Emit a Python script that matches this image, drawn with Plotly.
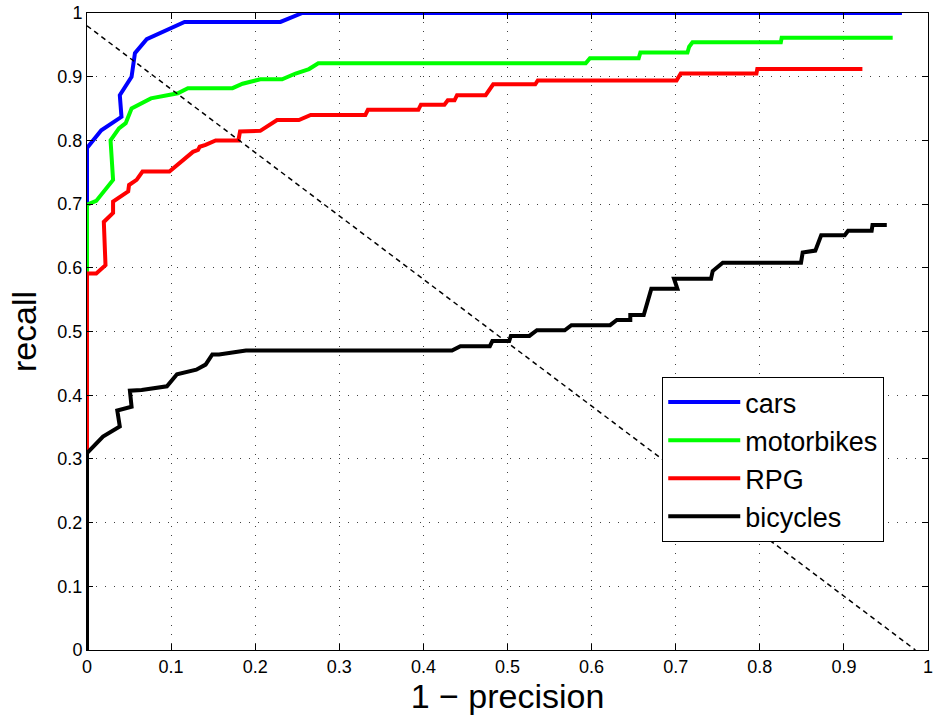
import plotly.graph_objects as go

# ---- data (1 - precision, recall) ----
cars_x = [0, 0, 0.017, 0.041, 0.039, 0.053, 0.057, 0.071, 0.116, 0.23, 0.256, 0.969]
cars_y = [0, 0.788, 0.816, 0.837, 0.871, 0.900, 0.937, 0.959, 0.986, 0.986, 1.0, 1.0]

moto_x = [0, 0, 0.011, 0.031, 0.028, 0.038, 0.046, 0.053, 0.076, 0.108, 0.12, 0.173, 0.185,
          0.206, 0.232, 0.248, 0.264, 0.275, 0.593, 0.598, 0.656, 0.658, 0.714, 0.716,
          0.72, 0.825, 0.826, 0.958]
moto_y = [0, 0.699, 0.705, 0.738, 0.800, 0.819, 0.827, 0.850, 0.866, 0.874, 0.882, 0.882, 0.889,
          0.896, 0.896, 0.905, 0.912, 0.921, 0.921, 0.929, 0.929, 0.938, 0.938, 0.947,
          0.954, 0.954, 0.961, 0.961]

rpg_x = [0, 0, 0.011, 0.022, 0.020, 0.031, 0.031, 0.049, 0.050, 0.059, 0.066, 0.098, 0.126,
         0.132, 0.134, 0.141, 0.153, 0.180, 0.182, 0.206, 0.226, 0.252, 0.266, 0.331, 0.334,
         0.394, 0.397, 0.425, 0.429, 0.437, 0.440, 0.474, 0.483, 0.533, 0.536, 0.701, 0.706,
         0.796, 0.797, 0.922]
rpg_y = [0, 0.591, 0.591, 0.604, 0.672, 0.686, 0.704, 0.720, 0.730, 0.738, 0.751, 0.751, 0.782,
         0.785, 0.790, 0.793, 0.800, 0.800, 0.814, 0.815, 0.832, 0.832, 0.840, 0.840, 0.848,
         0.848, 0.856, 0.856, 0.863, 0.863, 0.871, 0.871, 0.888, 0.888, 0.894, 0.894, 0.905,
         0.905, 0.912, 0.912]

bike_x = [0, 0, 0.019, 0.039, 0.036, 0.053, 0.051, 0.065, 0.095, 0.107, 0.13, 0.141, 0.149,
          0.157, 0.189, 0.434, 0.444, 0.479, 0.482, 0.502, 0.504, 0.526, 0.535, 0.568, 0.576,
          0.622, 0.630, 0.646, 0.646, 0.662, 0.671, 0.702, 0.698, 0.742, 0.744, 0.756, 0.849,
          0.851, 0.866, 0.873, 0.901, 0.905, 0.933, 0.934, 0.951]
bike_y = [0, 0.309, 0.335, 0.351, 0.376, 0.382, 0.407, 0.408, 0.414, 0.433, 0.440, 0.448, 0.464,
          0.464, 0.470, 0.470, 0.477, 0.477, 0.485, 0.485, 0.493, 0.493, 0.502, 0.502, 0.510,
          0.510, 0.518, 0.518, 0.526, 0.526, 0.567, 0.567, 0.583, 0.583, 0.595, 0.608, 0.608,
          0.624, 0.627, 0.651, 0.651, 0.658, 0.658, 0.667, 0.667]

diag_x = [0, 0.985]
diag_y = [0.98, 0]

tick_vals = [i / 10 for i in range(11)]
tick_text = ["0", "0.1", "0.2", "0.3", "0.4", "0.5", "0.6", "0.7", "0.8", "0.9", "1"]

series = [
    ("cars", cars_x, cars_y, "#0000ff"),
    ("motorbikes", moto_x, moto_y, "#00ff00"),
    ("RPG", rpg_x, rpg_y, "#ff0000"),
    ("bicycles", bike_x, bike_y, "#000000"),
]

FONT = "Arial, Liberation Sans, sans-serif"

fig = go.Figure()
for name, xs, ys, col in series:
    fig.add_trace(go.Scatter(x=xs, y=ys, mode="lines", name=name,
                             line=dict(color=col, width=4)))
fig.add_trace(go.Scatter(x=diag_x, y=diag_y, mode="lines", showlegend=False,
                         line=dict(color="black", width=1.5, dash="5px,4px")))

axis_common = dict(
    range=[0, 1], tickvals=tick_vals, ticktext=tick_text,
    showgrid=True, gridcolor="rgba(0,0,0,0.75)", gridwidth=1, griddash="1px,8px",
    showline=True, linecolor="black", linewidth=1, mirror="ticks",
    ticks="inside", ticklen=6, tickcolor="black", zeroline=False,
    ticklabeloverflow="allow", automargin=False,
    tickfont=dict(family=FONT, size=18, color="black"),
)

fig.update_xaxes(**axis_common,
                 title=dict(text="1 \u2212 precision", standoff=8,
                            font=dict(family=FONT, size=34, color="black")))
fig.update_yaxes(**axis_common,
                 title=dict(text="recall", standoff=10,
                            font=dict(family=FONT, size=34, color="black")))

fig.update_layout(
    width=935, height=720,
    margin=dict(l=87, r=7, t=13, b=70),
    paper_bgcolor="white", plot_bgcolor="white",
    legend=dict(x=0.684, y=0.4286, xanchor="left", yanchor="top",
                bgcolor="white", bordercolor="black", borderwidth=1,
                font=dict(family=FONT, size=27, color="black"),
                tracegroupgap=0, itemwidth=72),
    showlegend=True,
)

fig.write_html("out.html")
